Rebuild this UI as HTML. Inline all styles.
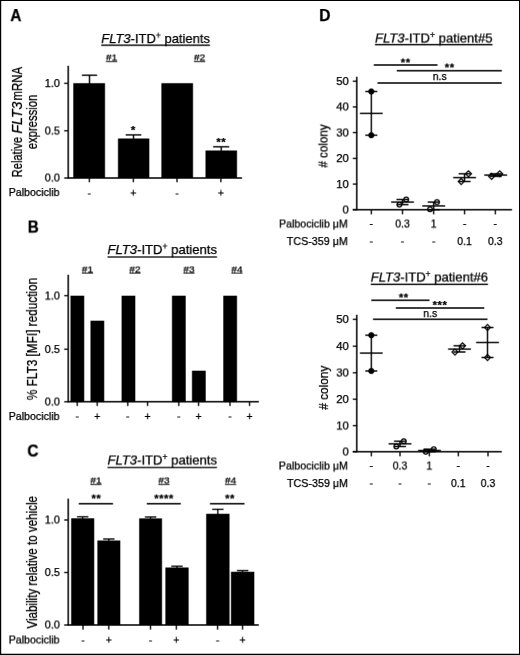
<!DOCTYPE html>
<html lang="en">
<head>
<meta charset="utf-8">
<title>FLT3-ITD+ patients figure</title>
<style>
html,body{margin:0;padding:0;background:#fff;}
body{width:520px;height:655px;overflow:hidden;}
svg{display:block;will-change:transform;filter:grayscale(1);}
svg text{font-family:"Liberation Sans", Arial, Helvetica, sans-serif;fill:#000;stroke:#000;stroke-width:0.25px;}
svg line, svg circle, svg path.m{stroke:#000;}
svg rect.bar, svg rect{fill:#000;}
</style>
</head>
<body>
<svg width="520" height="655" viewBox="0 0 520 655">
<g id="fig" transform="translate(-0.3,-0.3)">
<rect x="-2" y="-2" width="524" height="659" style="fill:#fff"/>
<text x="10.4" y="20.9" font-size="15.6" textLength="11" lengthAdjust="spacingAndGlyphs" font-weight="bold">A</text>
<text x="101.25" y="43" font-size="13" textLength="108.75" lengthAdjust="spacingAndGlyphs"><tspan font-style="italic">FLT3</tspan>-ITD<tspan font-size="8.5" dy="-4.5">+</tspan><tspan dy="4.5"> patients</tspan></text>
<line x1="101.25" y1="45.2" x2="210.0" y2="45.2" stroke-width="1.3"/>
<text x="111.6" y="60.8" font-size="9.5" text-anchor="middle" textLength="11.2" lengthAdjust="spacingAndGlyphs">#1</text>
<line x1="106.0" y1="61.6" x2="117.19999999999999" y2="61.6" stroke-width="0.9"/>
<text x="199.6" y="60.8" font-size="9.5" text-anchor="middle" textLength="11.2" lengthAdjust="spacingAndGlyphs">#2</text>
<line x1="194.0" y1="61.6" x2="205.2" y2="61.6" stroke-width="0.9"/>
<line x1="68.2" y1="65.8" x2="68.2" y2="178.6" stroke-width="1.5"/>
<line x1="67.60000000000001" y1="178" x2="242" y2="178" stroke-width="1.5"/>
<line x1="64.2" y1="83.3" x2="68.2" y2="83.3" stroke-width="1.3"/>
<text x="60" y="87.0" font-size="10.5" text-anchor="end" textLength="15.2" lengthAdjust="spacingAndGlyphs">1.0</text>
<line x1="64.2" y1="130.8" x2="68.2" y2="130.8" stroke-width="1.3"/>
<text x="60" y="134.5" font-size="10.5" text-anchor="end" textLength="15.2" lengthAdjust="spacingAndGlyphs">0.5</text>
<line x1="64.2" y1="178" x2="68.2" y2="178" stroke-width="1.3"/>
<text x="60" y="181.7" font-size="10.5" text-anchor="end" textLength="15.2" lengthAdjust="spacingAndGlyphs">0.0</text>
<rect x="73.3" y="83.2" width="31.700000000000003" height="94.8"/>
<rect x="118" y="138.5" width="31.30000000000001" height="39.5"/>
<rect x="161.4" y="83.2" width="31.599999999999994" height="94.8"/>
<rect x="205.5" y="150.5" width="31.5" height="27.5"/>
<line x1="89.5" y1="75.2" x2="89.5" y2="83.7" stroke-width="1.4"/>
<line x1="81.9" y1="75.2" x2="97.1" y2="75.2" stroke-width="1.4"/>
<line x1="133.5" y1="134.9" x2="133.5" y2="139.0" stroke-width="1.4"/>
<line x1="125.7" y1="134.9" x2="141.3" y2="134.9" stroke-width="1.4"/>
<line x1="221.2" y1="146.8" x2="221.2" y2="151.0" stroke-width="1.4"/>
<line x1="213.2" y1="146.8" x2="229.2" y2="146.8" stroke-width="1.4"/>
<line x1="89.3" y1="178" x2="89.3" y2="182.3" stroke-width="1.3"/>
<line x1="133.3" y1="178" x2="133.3" y2="182.3" stroke-width="1.3"/>
<line x1="177" y1="178" x2="177" y2="182.3" stroke-width="1.3"/>
<line x1="220.9" y1="178" x2="220.9" y2="182.3" stroke-width="1.3"/>
<text x="133.3" y="133.85" font-size="11.3" text-anchor="middle" font-weight="bold" letter-spacing="0.5">*</text>
<text x="221.3" y="145.85" font-size="11.3" text-anchor="middle" font-weight="bold" letter-spacing="0.5">**</text>
<text x="8.7" y="196.1" font-size="10.3" textLength="50.9" lengthAdjust="spacingAndGlyphs">Palbociclib</text>
<text x="89.3" y="196.3" font-size="10.5" text-anchor="middle">-</text>
<text x="133.3" y="196.3" font-size="10.5" text-anchor="middle">+</text>
<text x="177" y="196.3" font-size="10.5" text-anchor="middle">-</text>
<text x="220.9" y="196.3" font-size="10.5" text-anchor="middle">+</text>
<text transform="translate(21.9,177.4) rotate(-90)" font-size="14" textLength="40.5" lengthAdjust="spacingAndGlyphs">Relative</text>
<text transform="translate(21.9,133.6) rotate(-90)" font-size="14" font-style="italic" textLength="32" lengthAdjust="spacingAndGlyphs">FLT3</text>
<text transform="translate(21.9,100.5) rotate(-90)" font-size="14" textLength="33.6" lengthAdjust="spacingAndGlyphs">mRNA</text>
<text transform="translate(36.8,122) rotate(-90)" font-size="14" text-anchor="middle" textLength="54.6" lengthAdjust="spacingAndGlyphs">expression</text>
<text x="27.8" y="232.7" font-size="15.6" textLength="11" lengthAdjust="spacingAndGlyphs" font-weight="bold">B</text>
<text x="107.5" y="254.2" font-size="13" textLength="109.5" lengthAdjust="spacingAndGlyphs"><tspan font-style="italic">FLT3</tspan>-ITD<tspan font-size="8.5" dy="-4.5">+</tspan><tspan dy="4.5"> patients</tspan></text>
<line x1="107.5" y1="257" x2="217.0" y2="257" stroke-width="1.3"/>
<text x="87.5" y="272.3" font-size="9.5" text-anchor="middle" textLength="11.2" lengthAdjust="spacingAndGlyphs">#1</text>
<line x1="81.9" y1="273.1" x2="93.1" y2="273.1" stroke-width="0.9"/>
<text x="135" y="272.3" font-size="9.5" text-anchor="middle" textLength="11.2" lengthAdjust="spacingAndGlyphs">#2</text>
<line x1="129.4" y1="273.1" x2="140.6" y2="273.1" stroke-width="0.9"/>
<text x="189" y="272.3" font-size="9.5" text-anchor="middle" textLength="11.2" lengthAdjust="spacingAndGlyphs">#3</text>
<line x1="183.4" y1="273.1" x2="194.6" y2="273.1" stroke-width="0.9"/>
<text x="237" y="272.3" font-size="9.5" text-anchor="middle" textLength="11.2" lengthAdjust="spacingAndGlyphs">#4</text>
<line x1="231.4" y1="273.1" x2="242.6" y2="273.1" stroke-width="0.9"/>
<line x1="68.2" y1="274.8" x2="68.2" y2="402.4" stroke-width="1.5"/>
<line x1="67.60000000000001" y1="401.8" x2="258.8" y2="401.8" stroke-width="1.5"/>
<line x1="64.2" y1="295.7" x2="68.2" y2="295.7" stroke-width="1.3"/>
<text x="60" y="299.4" font-size="10.5" text-anchor="end" textLength="15.2" lengthAdjust="spacingAndGlyphs">1.0</text>
<line x1="64.2" y1="349.2" x2="68.2" y2="349.2" stroke-width="1.3"/>
<text x="60" y="352.9" font-size="10.5" text-anchor="end" textLength="15.2" lengthAdjust="spacingAndGlyphs">0.5</text>
<line x1="64.2" y1="401.8" x2="68.2" y2="401.8" stroke-width="1.3"/>
<text x="60" y="405.5" font-size="10.5" text-anchor="end" textLength="15.2" lengthAdjust="spacingAndGlyphs">0.0</text>
<rect x="70.5" y="295.7" width="13.7" height="106.10000000000002"/>
<rect x="90.5" y="320.7" width="13.7" height="81.10000000000002"/>
<rect x="121.6" y="295.7" width="13.7" height="106.10000000000002"/>
<rect x="172" y="295.7" width="13.7" height="106.10000000000002"/>
<rect x="192" y="370.7" width="13.7" height="31.100000000000023"/>
<rect x="223.3" y="295.7" width="13.7" height="106.10000000000002"/>
<line x1="77.2" y1="401.8" x2="77.2" y2="406" stroke-width="1.3"/>
<text x="77.2" y="419.5" font-size="10.5" text-anchor="middle">-</text>
<line x1="97.2" y1="401.8" x2="97.2" y2="406" stroke-width="1.3"/>
<text x="97.2" y="420" font-size="10.5" text-anchor="middle">+</text>
<line x1="127.8" y1="401.8" x2="127.8" y2="406" stroke-width="1.3"/>
<text x="127.8" y="419.5" font-size="10.5" text-anchor="middle">-</text>
<line x1="147.6" y1="401.8" x2="147.6" y2="406" stroke-width="1.3"/>
<text x="147.6" y="420" font-size="10.5" text-anchor="middle">+</text>
<line x1="178.8" y1="401.8" x2="178.8" y2="406" stroke-width="1.3"/>
<text x="178.8" y="419.5" font-size="10.5" text-anchor="middle">-</text>
<line x1="198.6" y1="401.8" x2="198.6" y2="406" stroke-width="1.3"/>
<text x="198.6" y="420" font-size="10.5" text-anchor="middle">+</text>
<line x1="230" y1="401.8" x2="230" y2="406" stroke-width="1.3"/>
<text x="230" y="419.5" font-size="10.5" text-anchor="middle">-</text>
<line x1="249.6" y1="401.8" x2="249.6" y2="406" stroke-width="1.3"/>
<text x="249.6" y="420" font-size="10.5" text-anchor="middle">+</text>
<text x="8.7" y="419.9" font-size="10.3" textLength="50.9" lengthAdjust="spacingAndGlyphs">Palbociclib</text>
<text transform="translate(37,339) rotate(-90)" font-size="14" text-anchor="middle" textLength="122.3" lengthAdjust="spacingAndGlyphs">% FLT3 [MFI] reduction</text>
<text x="27.4" y="456.6" font-size="15.6" textLength="11.1" lengthAdjust="spacingAndGlyphs" font-weight="bold">C</text>
<text x="107.5" y="464.4" font-size="13" textLength="109.5" lengthAdjust="spacingAndGlyphs"><tspan font-style="italic">FLT3</tspan>-ITD<tspan font-size="8.5" dy="-4.5">+</tspan><tspan dy="4.5"> patients</tspan></text>
<line x1="107.5" y1="467.5" x2="217.0" y2="467.5" stroke-width="1.3"/>
<text x="96" y="483.7" font-size="9.5" text-anchor="middle" textLength="11.2" lengthAdjust="spacingAndGlyphs">#1</text>
<line x1="90.4" y1="484.5" x2="101.6" y2="484.5" stroke-width="0.9"/>
<text x="164" y="483.7" font-size="9.5" text-anchor="middle" textLength="11.2" lengthAdjust="spacingAndGlyphs">#3</text>
<line x1="158.4" y1="484.5" x2="169.6" y2="484.5" stroke-width="0.9"/>
<text x="230.6" y="483.7" font-size="9.5" text-anchor="middle" textLength="11.2" lengthAdjust="spacingAndGlyphs">#4</text>
<line x1="225.0" y1="484.5" x2="236.2" y2="484.5" stroke-width="0.9"/>
<line x1="68.2" y1="498.6" x2="68.2" y2="625.6" stroke-width="1.5"/>
<line x1="67.60000000000001" y1="625" x2="258.8" y2="625" stroke-width="1.5"/>
<line x1="64.2" y1="520" x2="68.2" y2="520" stroke-width="1.3"/>
<text x="60" y="523.7" font-size="10.5" text-anchor="end" textLength="15.2" lengthAdjust="spacingAndGlyphs">1.0</text>
<line x1="64.2" y1="572.5" x2="68.2" y2="572.5" stroke-width="1.3"/>
<text x="60" y="576.2" font-size="10.5" text-anchor="end" textLength="15.2" lengthAdjust="spacingAndGlyphs">0.5</text>
<line x1="64.2" y1="625" x2="68.2" y2="625" stroke-width="1.3"/>
<text x="60" y="628.7" font-size="10.5" text-anchor="end" textLength="15.2" lengthAdjust="spacingAndGlyphs">0.0</text>
<rect x="71.2" y="518.3" width="23.0" height="106.70000000000005"/>
<line x1="82.7" y1="516.8" x2="82.7" y2="518.8" stroke-width="1.3"/>
<line x1="77.0" y1="516.8" x2="88.4" y2="516.8" stroke-width="1.3"/>
<rect x="97.4" y="540.5" width="22.89999999999999" height="84.5"/>
<line x1="108.85" y1="539" x2="108.85" y2="541.0" stroke-width="1.3"/>
<line x1="103.14999999999999" y1="539" x2="114.55" y2="539" stroke-width="1.3"/>
<rect x="139.2" y="518.4" width="22.80000000000001" height="106.60000000000002"/>
<line x1="150.6" y1="517" x2="150.6" y2="518.9" stroke-width="1.3"/>
<line x1="144.9" y1="517" x2="156.29999999999998" y2="517" stroke-width="1.3"/>
<rect x="165.4" y="567.5" width="23.19999999999999" height="57.5"/>
<line x1="177.0" y1="566.2" x2="177.0" y2="568.0" stroke-width="1.3"/>
<line x1="171.3" y1="566.2" x2="182.7" y2="566.2" stroke-width="1.3"/>
<rect x="206.2" y="513.8" width="23.30000000000001" height="111.20000000000005"/>
<line x1="217.85" y1="509.3" x2="217.85" y2="514.3" stroke-width="1.3"/>
<line x1="212.15" y1="509.3" x2="223.54999999999998" y2="509.3" stroke-width="1.3"/>
<rect x="231" y="571.8" width="23.30000000000001" height="53.200000000000045"/>
<line x1="242.65" y1="570.6" x2="242.65" y2="572.3" stroke-width="1.3"/>
<line x1="236.95000000000002" y1="570.6" x2="248.35" y2="570.6" stroke-width="1.3"/>
<line x1="83" y1="625" x2="83" y2="629.6" stroke-width="1.3"/>
<text x="83" y="643.3" font-size="10.5" text-anchor="middle">-</text>
<line x1="108.8" y1="625" x2="108.8" y2="629.6" stroke-width="1.3"/>
<text x="108.8" y="643.3" font-size="10.5" text-anchor="middle">+</text>
<line x1="150.5" y1="625" x2="150.5" y2="629.6" stroke-width="1.3"/>
<text x="150.5" y="643.3" font-size="10.5" text-anchor="middle">-</text>
<line x1="176.3" y1="625" x2="176.3" y2="629.6" stroke-width="1.3"/>
<text x="176.3" y="643.3" font-size="10.5" text-anchor="middle">+</text>
<line x1="217.6" y1="625" x2="217.6" y2="629.6" stroke-width="1.3"/>
<text x="217.6" y="643.3" font-size="10.5" text-anchor="middle">-</text>
<line x1="242.6" y1="625" x2="242.6" y2="629.6" stroke-width="1.3"/>
<text x="242.6" y="643.3" font-size="10.5" text-anchor="middle">+</text>
<text x="8.7" y="643.4" font-size="10.3" textLength="50.9" lengthAdjust="spacingAndGlyphs">Palbociclib</text>
<line x1="78.8" y1="503.8" x2="113" y2="503.8" stroke-width="1.5"/>
<text x="96.4" y="502.6" font-size="11.3" text-anchor="middle" font-weight="bold" letter-spacing="0.5">**</text>
<line x1="146.8" y1="503.8" x2="180.8" y2="503.8" stroke-width="1.5"/>
<text x="164" y="502.6" font-size="11.3" text-anchor="middle" font-weight="bold" letter-spacing="0.5">****</text>
<line x1="210" y1="503.8" x2="244.5" y2="503.8" stroke-width="1.5"/>
<text x="230" y="502.6" font-size="11.3" text-anchor="middle" font-weight="bold" letter-spacing="0.5">**</text>
<text transform="translate(36.9,562.3) rotate(-90)" font-size="14" text-anchor="middle" textLength="132.6" lengthAdjust="spacingAndGlyphs">Viability relative to vehicle</text>
<text x="319.3" y="21" font-size="15.6" textLength="11.2" lengthAdjust="spacingAndGlyphs" font-weight="bold">D</text>
<text x="375" y="42.4" font-size="13" textLength="117.5" lengthAdjust="spacingAndGlyphs"><tspan font-style="italic">FLT3</tspan>-ITD<tspan font-size="8.5" dy="-4.5">+</tspan><tspan dy="4.5"> patient#5</tspan></text>
<line x1="375" y1="44.7" x2="492.5" y2="44.7" stroke-width="1.3"/>
<line x1="356.8" y1="76.8" x2="356.8" y2="210.4" stroke-width="1.5"/>
<line x1="352.8" y1="209.8" x2="512" y2="209.8" stroke-width="1.5"/>
<line x1="352.8" y1="209.8" x2="356.8" y2="209.8" stroke-width="1.3"/>
<text x="348.9" y="213.60000000000002" font-size="10.5" text-anchor="end" textLength="6.35" lengthAdjust="spacingAndGlyphs">0</text>
<line x1="352.8" y1="184.08" x2="356.8" y2="184.08" stroke-width="1.3"/>
<text x="348.9" y="187.88000000000002" font-size="10.5" text-anchor="end" textLength="12.7" lengthAdjust="spacingAndGlyphs">10</text>
<line x1="352.8" y1="158.36" x2="356.8" y2="158.36" stroke-width="1.3"/>
<text x="348.9" y="162.16000000000003" font-size="10.5" text-anchor="end" textLength="12.7" lengthAdjust="spacingAndGlyphs">20</text>
<line x1="352.8" y1="132.64" x2="356.8" y2="132.64" stroke-width="1.3"/>
<text x="348.9" y="136.44" font-size="10.5" text-anchor="end" textLength="12.7" lengthAdjust="spacingAndGlyphs">30</text>
<line x1="352.8" y1="106.92" x2="356.8" y2="106.92" stroke-width="1.3"/>
<text x="348.9" y="110.72" font-size="10.5" text-anchor="end" textLength="12.7" lengthAdjust="spacingAndGlyphs">40</text>
<line x1="352.8" y1="81.2" x2="356.8" y2="81.2" stroke-width="1.3"/>
<text x="348.9" y="85.0" font-size="10.5" text-anchor="end" textLength="12.7" lengthAdjust="spacingAndGlyphs">50</text>
<line x1="371.3" y1="209.8" x2="371.3" y2="214.4" stroke-width="1.3"/>
<line x1="402.5" y1="209.8" x2="402.5" y2="214.4" stroke-width="1.3"/>
<line x1="433.7" y1="209.8" x2="433.7" y2="214.4" stroke-width="1.3"/>
<line x1="464.6" y1="209.8" x2="464.6" y2="214.4" stroke-width="1.3"/>
<line x1="495.3" y1="209.8" x2="495.3" y2="214.4" stroke-width="1.3"/>
<line x1="359.90000000000003" y1="113.35" x2="382.7" y2="113.35" stroke-width="1.4"/>
<line x1="371.3" y1="135.21" x2="371.3" y2="91.49" stroke-width="1.4"/>
<line x1="365.3" y1="135.21" x2="377.3" y2="135.21" stroke-width="1.4"/>
<line x1="365.3" y1="91.49" x2="377.3" y2="91.49" stroke-width="1.4"/>
<circle cx="371.3" cy="91.49" r="2.6"/>
<circle cx="371.3" cy="135.21" r="2.6"/>
<line x1="391.1" y1="202.08" x2="413.9" y2="202.08" stroke-width="1.4"/>
<line x1="402.5" y1="204.66" x2="402.5" y2="199.51" stroke-width="1.4"/>
<line x1="396.5" y1="204.66" x2="408.5" y2="204.66" stroke-width="1.4"/>
<line x1="396.5" y1="199.51" x2="408.5" y2="199.51" stroke-width="1.4"/>
<circle cx="399.4" cy="204.66" r="2.35" fill="none" stroke-width="1.2"/>
<circle cx="406.2" cy="199.51" r="2.35" fill="none" stroke-width="1.2"/>
<line x1="422.3" y1="205.94" x2="445.09999999999997" y2="205.94" stroke-width="1.4"/>
<line x1="433.7" y1="209.8" x2="433.7" y2="202.08" stroke-width="1.4"/>
<line x1="427.7" y1="209.8" x2="439.7" y2="209.8" stroke-width="1.4"/>
<line x1="427.7" y1="202.08" x2="439.7" y2="202.08" stroke-width="1.4"/>
<circle cx="430" cy="209.29" r="2.35" fill="none" stroke-width="1.2"/>
<circle cx="437" cy="202.08" r="2.35" fill="none" stroke-width="1.2"/>
<line x1="453.20000000000005" y1="177.65" x2="476.0" y2="177.65" stroke-width="1.4"/>
<line x1="464.6" y1="181.51" x2="464.6" y2="173.79" stroke-width="1.4"/>
<line x1="458.6" y1="181.51" x2="470.6" y2="181.51" stroke-width="1.4"/>
<line x1="458.6" y1="173.79" x2="470.6" y2="173.79" stroke-width="1.4"/>
<path class="m" d="M458.2,181.51 L461.2,178.51 L464.2,181.51 L461.2,184.51 Z" fill="none" stroke-width="1.2"/>
<path class="m" d="M465.5,173.79 L468.5,170.79 L471.5,173.79 L468.5,176.79 Z" fill="none" stroke-width="1.2"/>
<line x1="484.3" y1="175.08" x2="507.09999999999997" y2="175.08" stroke-width="1.4"/>
<line x1="495.7" y1="176.36" x2="495.7" y2="173.79" stroke-width="1.4"/>
<line x1="489.7" y1="176.36" x2="501.7" y2="176.36" stroke-width="1.4"/>
<line x1="489.7" y1="173.79" x2="501.7" y2="173.79" stroke-width="1.4"/>
<path class="m" d="M488.6,176.36 L491.6,173.36 L494.6,176.36 L491.6,179.36 Z" fill="none" stroke-width="1.2"/>
<path class="m" d="M496.7,173.79 L499.7,170.79 L502.7,173.79 L499.7,176.79 Z" fill="none" stroke-width="1.2"/>
<line x1="373.8" y1="65" x2="437.5" y2="65" stroke-width="1.5"/>
<text x="405.7" y="66.3" font-size="11.3" text-anchor="middle" font-weight="bold" letter-spacing="0.5">**</text>
<line x1="396.8" y1="70.8" x2="501.8" y2="70.8" stroke-width="1.5"/>
<text x="449.7" y="71.6" font-size="11.3" text-anchor="middle" font-weight="bold" letter-spacing="0.5">**</text>
<line x1="377.5" y1="83" x2="501.8" y2="83" stroke-width="1.5"/>
<text x="439.7" y="80" font-size="10.5" text-anchor="middle">n.s</text>
<text x="347.8" y="227.5" font-size="10.5" text-anchor="end" textLength="68.8" lengthAdjust="spacingAndGlyphs">Palbociclib &#956;M</text>
<text x="347.8" y="244.9" font-size="10.5" text-anchor="end" textLength="61" lengthAdjust="spacingAndGlyphs">TCS-359 &#956;M</text>
<text x="371.3" y="226.9" font-size="10.5" text-anchor="middle">-</text>
<text x="402.5" y="227.5" font-size="10.5" text-anchor="middle">0.3</text>
<text x="433.7" y="227.5" font-size="10.5" text-anchor="middle">1</text>
<text x="464.6" y="226.9" font-size="10.5" text-anchor="middle">-</text>
<text x="495.3" y="226.9" font-size="10.5" text-anchor="middle">-</text>
<text x="371.3" y="244.3" font-size="10.5" text-anchor="middle">-</text>
<text x="402.5" y="244.3" font-size="10.5" text-anchor="middle">-</text>
<text x="433.7" y="244.3" font-size="10.5" text-anchor="middle">-</text>
<text x="464.6" y="244.9" font-size="10.5" text-anchor="middle">0.1</text>
<text x="495.3" y="244.9" font-size="10.5" text-anchor="middle">0.3</text>
<text transform="translate(327.7,146) rotate(-90)" font-size="12.5" text-anchor="middle" textLength="43.3" lengthAdjust="spacingAndGlyphs"># colony</text>
<text x="370.8" y="281.4" font-size="13" textLength="117.2" lengthAdjust="spacingAndGlyphs"><tspan font-style="italic">FLT3</tspan>-ITD<tspan font-size="8.5" dy="-4.5">+</tspan><tspan dy="4.5"> patient#6</tspan></text>
<line x1="370.8" y1="284.3" x2="488.0" y2="284.3" stroke-width="1.3"/>
<line x1="356.8" y1="314.8" x2="356.8" y2="452.40000000000003" stroke-width="1.5"/>
<line x1="352.8" y1="451.8" x2="501.8" y2="451.8" stroke-width="1.5"/>
<line x1="352.8" y1="451.8" x2="356.8" y2="451.8" stroke-width="1.3"/>
<text x="348.9" y="455.6" font-size="10.5" text-anchor="end" textLength="6.35" lengthAdjust="spacingAndGlyphs">0</text>
<line x1="352.8" y1="425.7" x2="356.8" y2="425.7" stroke-width="1.3"/>
<text x="348.9" y="429.5" font-size="10.5" text-anchor="end" textLength="12.7" lengthAdjust="spacingAndGlyphs">10</text>
<line x1="352.8" y1="399.2" x2="356.8" y2="399.2" stroke-width="1.3"/>
<text x="348.9" y="403.0" font-size="10.5" text-anchor="end" textLength="12.7" lengthAdjust="spacingAndGlyphs">20</text>
<line x1="352.8" y1="372.8" x2="356.8" y2="372.8" stroke-width="1.3"/>
<text x="348.9" y="376.6" font-size="10.5" text-anchor="end" textLength="12.7" lengthAdjust="spacingAndGlyphs">30</text>
<line x1="352.8" y1="346.2" x2="356.8" y2="346.2" stroke-width="1.3"/>
<text x="348.9" y="350.0" font-size="10.5" text-anchor="end" textLength="12.7" lengthAdjust="spacingAndGlyphs">40</text>
<line x1="352.8" y1="319.3" x2="356.8" y2="319.3" stroke-width="1.3"/>
<text x="348.9" y="323.1" font-size="10.5" text-anchor="end" textLength="12.7" lengthAdjust="spacingAndGlyphs">50</text>
<line x1="371.3" y1="451.8" x2="371.3" y2="456.40000000000003" stroke-width="1.3"/>
<line x1="400" y1="451.8" x2="400" y2="456.40000000000003" stroke-width="1.3"/>
<line x1="429.3" y1="451.8" x2="429.3" y2="456.40000000000003" stroke-width="1.3"/>
<line x1="458.3" y1="451.8" x2="458.3" y2="456.40000000000003" stroke-width="1.3"/>
<line x1="488" y1="451.8" x2="488" y2="456.40000000000003" stroke-width="1.3"/>
<line x1="359.90000000000003" y1="353.09" x2="382.7" y2="353.09" stroke-width="1.4"/>
<line x1="371.3" y1="370.98" x2="371.3" y2="335.2" stroke-width="1.4"/>
<line x1="365.3" y1="370.98" x2="377.3" y2="370.98" stroke-width="1.4"/>
<line x1="365.3" y1="335.2" x2="377.3" y2="335.2" stroke-width="1.4"/>
<circle cx="371.3" cy="335.2" r="2.6"/>
<circle cx="371.3" cy="370.98" r="2.6"/>
<line x1="388.6" y1="443.85" x2="411.4" y2="443.85" stroke-width="1.4"/>
<line x1="400" y1="446.5" x2="400" y2="441.2" stroke-width="1.4"/>
<line x1="394" y1="446.5" x2="406" y2="446.5" stroke-width="1.4"/>
<line x1="394" y1="441.2" x2="406" y2="441.2" stroke-width="1.4"/>
<circle cx="396.3" cy="446.5" r="2.35" fill="none" stroke-width="1.2"/>
<circle cx="403.8" cy="441.2" r="2.35" fill="none" stroke-width="1.2"/>
<line x1="418.1" y1="450.48" x2="440.9" y2="450.48" stroke-width="1.4"/>
<line x1="429.5" y1="451.8" x2="429.5" y2="449.15" stroke-width="1.4"/>
<line x1="423.5" y1="451.8" x2="435.5" y2="451.8" stroke-width="1.4"/>
<line x1="423.5" y1="449.15" x2="435.5" y2="449.15" stroke-width="1.4"/>
<circle cx="425.8" cy="451.8" r="2.35" fill="none" stroke-width="1.2"/>
<circle cx="433.8" cy="449.15" r="2.35" fill="none" stroke-width="1.2"/>
<line x1="448.1" y1="349.1" x2="470.9" y2="349.1" stroke-width="1.4"/>
<line x1="459.5" y1="352" x2="459.5" y2="345.8" stroke-width="1.4"/>
<line x1="453.5" y1="352" x2="465.5" y2="352" stroke-width="1.4"/>
<line x1="453.5" y1="345.8" x2="465.5" y2="345.8" stroke-width="1.4"/>
<path class="m" d="M452,352 L455,349 L458,352 L455,355 Z" fill="none" stroke-width="1.2"/>
<path class="m" d="M459.5,345.8 L462.5,342.8 L465.5,345.8 L462.5,348.8 Z" fill="none" stroke-width="1.2"/>
<line x1="476.1" y1="342.5" x2="498.9" y2="342.5" stroke-width="1.4"/>
<line x1="487.5" y1="357.5" x2="487.5" y2="327.5" stroke-width="1.4"/>
<line x1="481.5" y1="357.5" x2="493.5" y2="357.5" stroke-width="1.4"/>
<line x1="481.5" y1="327.5" x2="493.5" y2="327.5" stroke-width="1.4"/>
<path class="m" d="M484.5,357.5 L487.5,354.5 L490.5,357.5 L487.5,360.5 Z" fill="none" stroke-width="1.2"/>
<path class="m" d="M484.5,327.5 L487.5,324.5 L490.5,327.5 L487.5,330.5 Z" fill="none" stroke-width="1.2"/>
<line x1="371.3" y1="300.2" x2="429.5" y2="300.2" stroke-width="1.5"/>
<text x="403.8" y="301.3" font-size="11.3" text-anchor="middle" font-weight="bold" letter-spacing="0.5">**</text>
<line x1="395.8" y1="308" x2="484.3" y2="308" stroke-width="1.5"/>
<text x="440" y="308.95" font-size="11.3" text-anchor="middle" font-weight="bold" letter-spacing="0.5">***</text>
<line x1="373" y1="319.3" x2="487.5" y2="319.3" stroke-width="1.5"/>
<text x="430.3" y="317" font-size="10.5" text-anchor="middle">n.s</text>
<text x="348" y="469.5" font-size="10.5" text-anchor="end" textLength="69.2" lengthAdjust="spacingAndGlyphs">Palbociclib &#956;M</text>
<text x="348" y="487" font-size="10.5" text-anchor="end" textLength="61" lengthAdjust="spacingAndGlyphs">TCS-359 &#956;M</text>
<text x="371.3" y="468.9" font-size="10.5" text-anchor="middle">-</text>
<text x="400" y="469.5" font-size="10.5" text-anchor="middle">0.3</text>
<text x="429.3" y="469.5" font-size="10.5" text-anchor="middle">1</text>
<text x="458.3" y="468.9" font-size="10.5" text-anchor="middle">-</text>
<text x="488" y="468.9" font-size="10.5" text-anchor="middle">-</text>
<text x="371.3" y="486.4" font-size="10.5" text-anchor="middle">-</text>
<text x="400" y="486.4" font-size="10.5" text-anchor="middle">-</text>
<text x="429.3" y="486.4" font-size="10.5" text-anchor="middle">-</text>
<text x="458.3" y="487" font-size="10.5" text-anchor="middle">0.1</text>
<text x="488" y="487" font-size="10.5" text-anchor="middle">0.3</text>
<text transform="translate(327.9,387.7) rotate(-90)" font-size="12.5" text-anchor="middle" textLength="44" lengthAdjust="spacingAndGlyphs"># colony</text>
</g>
<use href="#fig" x="0.6" y="0" opacity="0.5"/>
<use href="#fig" x="0" y="0.6" opacity="0.3333"/>
<use href="#fig" x="0.6" y="0.6" opacity="0.25"/>
<path d="M0,0 H520 V655 H0 Z M1.2,1 V653.7 H519 V1 Z" fill-rule="evenodd" fill="#000" stroke="none"/>
</svg>
</body>
</html>
